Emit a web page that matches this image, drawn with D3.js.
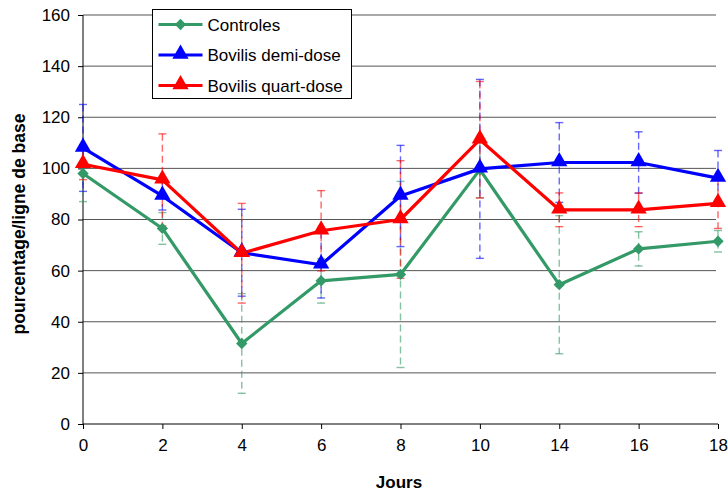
<!DOCTYPE html>
<html>
<head>
<meta charset="utf-8">
<script src="https://cdn.jsdelivr.net/npm/d3@7"></script>
<style>
  html, body { margin: 0; padding: 0; background: #fff; }
  svg { display: block; font-family: "Liberation Sans", Arial, sans-serif; }
</style>
</head>
<body>
<svg id="chart" width="728" height="493"></svg>
<script>
// ---- data ----
const days = ["0", "2", "4", "6", "8", "10", "14", "16", "18"];
const yTicks = [0, 20, 40, 60, 80, 100, 120, 140, 160];

const controlesMean = [98, 76.5, 31.5, 56, 58.5, 99.5, 54.5, 68.5, 71.5];
const controlesErr  = [11, 6.2, 19.5, 8.7, 36.4, 11, 27, 6.7, 4.2];

const demiMean = [108, 89.2, 67, 62.3, 89.2, 99.8, 102.3, 102.3, 96.2];
const demiErr  = [17, 5.5, 17, 13, 19.8, 35, 15.6, 12, 10.8];

const quartMean = [101.6, 95.5, 66.8, 75.6, 80, 111.2, 83.8, 83.8, 86.3];
const quartErr  = [6, 18, 19.5, 15.7, 23, 22.8, 6.6, 6.6, 9.8];

const seriesNames = ["Controles", "Bovilis demi-dose", "Bovilis quart-dose"];
const seriesColors = ["#339966", "#0000ff", "#ff0000"];
const seriesShapes = ["diamond", "triangle", "triangle"];

const series = [
  { name: seriesNames[0], mean: controlesMean, err: controlesErr, color: seriesColors[0], shape: seriesShapes[0] },
  { name: seriesNames[1], mean: demiMean, err: demiErr, color: seriesColors[1], shape: seriesShapes[1] },
  { name: seriesNames[2], mean: quartMean, err: quartErr, color: seriesColors[2], shape: seriesShapes[2] }
];

// ---- layout ----
const svg = d3.select("#chart");
const mLeft = 83, mRight = 718, mTop = 15, mBottom = 424;

const x = d3.scalePoint().domain(days).range([mLeft, mRight]).padding(0);
const y = d3.scaleLinear().domain([0, 160]).range([mBottom, mTop]);

// gridlines
svg.append("g").selectAll("line").data(yTicks.filter(d => d > 0)).join("line")
  .attr("x1", mLeft).attr("x2", mRight - 2)
  .attr("y1", d => y(d)).attr("y2", d => y(d))
  .attr("stroke", "#555").attr("stroke-width", 1);

// axes
const yAxis = d3.axisLeft(y).tickValues(yTicks).tickSize(5).tickPadding(8);
const gy = svg.append("g").attr("transform", `translate(${mLeft},0)`).call(yAxis);
gy.select(".domain").attr("stroke", "#000").attr("d", `M0,${mBottom}V${mTop}`);
gy.selectAll(".tick line").attr("stroke", "#000");
gy.selectAll(".tick text").attr("font-size", 17).attr("fill", "#000")
  .attr("font-family", "Liberation Sans, Arial, sans-serif");

const xAxis = d3.axisBottom(x).tickSize(5).tickPadding(10);
const gx = svg.append("g").attr("transform", `translate(0,${mBottom})`).call(xAxis);
gx.select(".domain").attr("stroke", "#000").attr("d", `M${mLeft},0H${mRight}`);
gx.selectAll(".tick line").attr("stroke", "#000");
gx.selectAll(".tick text").attr("font-size", 17).attr("fill", "#000")
  .attr("font-family", "Liberation Sans, Arial, sans-serif");

// axis titles
svg.append("text").attr("x", 399).attr("y", 488).attr("text-anchor", "middle")
  .attr("font-size", 17).attr("font-weight", "bold").text("Jours");
svg.append("text").attr("transform", `translate(25,224) rotate(-90)`)
  .attr("text-anchor", "middle").attr("font-size", 17.5).attr("font-weight", "bold")
  .text("pourcentage/ligne de base");

// error bars
series.forEach(s => {
  const g = svg.append("g").attr("stroke", s.color).attr("stroke-opacity", 0.6).attr("stroke-width", 1.4);
  days.forEach((d, i) => {
    const cx = x(d), hi = y(s.mean[i] + s.err[i]), lo = y(s.mean[i] - s.err[i]);
    g.append("line").attr("x1", cx).attr("x2", cx).attr("y1", hi).attr("y2", lo)
      .attr("stroke-dasharray", "7,4");
    g.append("line").attr("x1", cx - 4).attr("x2", cx + 4).attr("y1", hi).attr("y2", hi);
    g.append("line").attr("x1", cx - 4).attr("x2", cx + 4).attr("y1", lo).attr("y2", lo);
  });
});

// lines and markers
const line = d3.line().x((v, i) => x(days[i])).y(v => y(v));
const diamond = d3.symbol().type(d3.symbolSquare).size(64);
const triangle = d3.symbol().type(d3.symbolTriangle).size(115);
const markerTransform = (shape, cx, cy) =>
  shape === "diamond" ? `translate(${cx},${cy}) rotate(45)` : `translate(${cx},${cy - 1})`;

series.forEach(s => {
  svg.append("path").datum(s.mean).attr("d", line)
    .attr("fill", "none").attr("stroke", s.color).attr("stroke-width", 3.2)
    .attr("stroke-linejoin", "round");
});
series.forEach(s => {
  svg.append("g").selectAll("path").data(s.mean).join("path")
    .attr("transform", (v, i) => markerTransform(s.shape, x(days[i]), y(v)))
    .attr("d", s.shape === "diamond" ? diamond : triangle)
    .attr("fill", s.color);
});

// legend
const lg = svg.append("g").attr("transform", "translate(152.5,9.5)");
lg.append("rect").attr("width", 199).attr("height", 89).attr("fill", "#fff").attr("stroke", "#000").attr("stroke-width", 1);
series.forEach((s, i) => {
  const ly = 15 + i * 30.5;
  lg.append("line").attr("x1", 6).attr("x2", 50).attr("y1", ly).attr("y2", ly)
    .attr("stroke", s.color).attr("stroke-width", 3.2);
  lg.append("path").attr("transform", markerTransform(s.shape, 28, ly))
    .attr("d", s.shape === "diamond" ? diamond : triangle).attr("fill", s.color);
  lg.append("text").attr("x", 55).attr("y", ly + 6).attr("font-size", 17).text(s.name);
});
</script>
</body>
</html>
